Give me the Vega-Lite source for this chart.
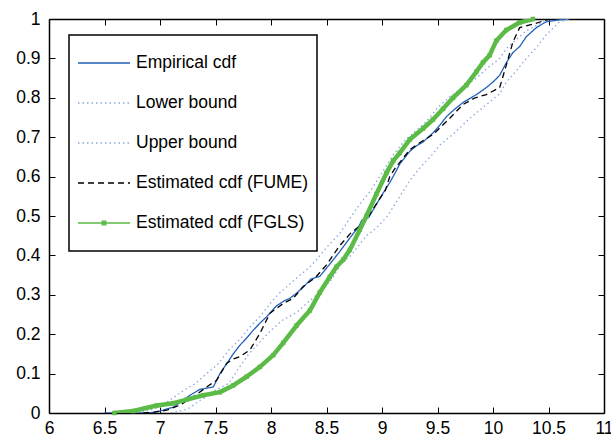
{
  "$schema": "https://vega.github.io/schema/vega-lite/v6.json",
  "width": 555,
  "height": 394,
  "autosize": {"type": "none"},
  "padding": {"left": 49, "top": 19, "right": 7, "bottom": 23},
  "config": {
    "font": "Liberation Sans",
    "view": {"stroke": null},
    "axis": {"grid": false, "domainColor": "black", "domainWidth": 1.5, "tickColor": "black", "tickWidth": 1, "tickSize": -6, "labelFont": "Liberation Sans", "labelFontSize": 17.5, "labelColor": "black", "title": null},
    "legend": {"labelFont": "Liberation Sans", "labelFontSize": 17.5, "labelColor": "black"}
  },
  "data": {"values": [
    {"s":"Empirical cdf","x":6.50,"y":0},{"s":"Empirical cdf","x":6.90,"y":0},{"s":"Empirical cdf","x":7.00,"y":0.005},{"s":"Empirical cdf","x":7.12,"y":0.015},{"s":"Empirical cdf","x":7.20,"y":0.03},{"s":"Empirical cdf","x":7.27,"y":0.045},{"s":"Empirical cdf","x":7.36,"y":0.06},{"s":"Empirical cdf","x":7.48,"y":0.066},{"s":"Empirical cdf","x":7.54,"y":0.10},{"s":"Empirical cdf","x":7.60,"y":0.125},{"s":"Empirical cdf","x":7.66,"y":0.15},{"s":"Empirical cdf","x":7.72,"y":0.172},{"s":"Empirical cdf","x":7.78,"y":0.19},{"s":"Empirical cdf","x":7.84,"y":0.21},{"s":"Empirical cdf","x":7.90,"y":0.228},{"s":"Empirical cdf","x":7.96,"y":0.244},{"s":"Empirical cdf","x":8.05,"y":0.272},{"s":"Empirical cdf","x":8.12,"y":0.285},{"s":"Empirical cdf","x":8.17,"y":0.291},{"s":"Empirical cdf","x":8.23,"y":0.304},{"s":"Empirical cdf","x":8.30,"y":0.322},{"s":"Empirical cdf","x":8.36,"y":0.34},{"s":"Empirical cdf","x":8.44,"y":0.347},{"s":"Empirical cdf","x":8.53,"y":0.378},{"s":"Empirical cdf","x":8.62,"y":0.41},{"s":"Empirical cdf","x":8.71,"y":0.444},{"s":"Empirical cdf","x":8.79,"y":0.473},{"s":"Empirical cdf","x":8.82,"y":0.49},{"s":"Empirical cdf","x":8.88,"y":0.496},{"s":"Empirical cdf","x":8.95,"y":0.53},{"s":"Empirical cdf","x":9.01,"y":0.558},{"s":"Empirical cdf","x":9.07,"y":0.585},{"s":"Empirical cdf","x":9.12,"y":0.61},{"s":"Empirical cdf","x":9.16,"y":0.632},{"s":"Empirical cdf","x":9.25,"y":0.664},{"s":"Empirical cdf","x":9.30,"y":0.676},{"s":"Empirical cdf","x":9.37,"y":0.688},{"s":"Empirical cdf","x":9.46,"y":0.711},{"s":"Empirical cdf","x":9.52,"y":0.73},{"s":"Empirical cdf","x":9.58,"y":0.752},{"s":"Empirical cdf","x":9.65,"y":0.77},{"s":"Empirical cdf","x":9.73,"y":0.788},{"s":"Empirical cdf","x":9.85,"y":0.808},{"s":"Empirical cdf","x":9.94,"y":0.826},{"s":"Empirical cdf","x":10.00,"y":0.84},{"s":"Empirical cdf","x":10.06,"y":0.857},{"s":"Empirical cdf","x":10.12,"y":0.889},{"s":"Empirical cdf","x":10.18,"y":0.915},{"s":"Empirical cdf","x":10.24,"y":0.93},{"s":"Empirical cdf","x":10.30,"y":0.955},{"s":"Empirical cdf","x":10.39,"y":0.978},{"s":"Empirical cdf","x":10.48,"y":0.993},{"s":"Empirical cdf","x":10.60,"y":0.998},{"s":"Empirical cdf","x":10.69,"y":1.0},

    {"s":"Lower bound","x":7.10,"y":0},{"s":"Lower bound","x":7.25,"y":0.01},{"s":"Lower bound","x":7.35,"y":0.03},{"s":"Lower bound","x":7.41,"y":0.04},{"s":"Lower bound","x":7.50,"y":0.058},{"s":"Lower bound","x":7.62,"y":0.075},{"s":"Lower bound","x":7.70,"y":0.11},{"s":"Lower bound","x":7.80,"y":0.15},{"s":"Lower bound","x":7.90,"y":0.18},{"s":"Lower bound","x":7.99,"y":0.207},{"s":"Lower bound","x":8.10,"y":0.235},{"s":"Lower bound","x":8.23,"y":0.255},{"s":"Lower bound","x":8.35,"y":0.285},{"s":"Lower bound","x":8.45,"y":0.31},{"s":"Lower bound","x":8.55,"y":0.34},{"s":"Lower bound","x":8.62,"y":0.375},{"s":"Lower bound","x":8.72,"y":0.40},{"s":"Lower bound","x":8.86,"y":0.45},{"s":"Lower bound","x":8.95,"y":0.47},{"s":"Lower bound","x":9.05,"y":0.50},{"s":"Lower bound","x":9.15,"y":0.545},{"s":"Lower bound","x":9.25,"y":0.59},{"s":"Lower bound","x":9.35,"y":0.625},{"s":"Lower bound","x":9.45,"y":0.655},{"s":"Lower bound","x":9.52,"y":0.68},{"s":"Lower bound","x":9.65,"y":0.71},{"s":"Lower bound","x":9.80,"y":0.75},{"s":"Lower bound","x":9.95,"y":0.785},{"s":"Lower bound","x":10.06,"y":0.81},{"s":"Lower bound","x":10.12,"y":0.84},{"s":"Lower bound","x":10.20,"y":0.865},{"s":"Lower bound","x":10.30,"y":0.90},{"s":"Lower bound","x":10.39,"y":0.927},{"s":"Lower bound","x":10.48,"y":0.96},{"s":"Lower bound","x":10.60,"y":0.993},{"s":"Lower bound","x":10.70,"y":1.0},

    {"s":"Upper bound","x":6.80,"y":0},{"s":"Upper bound","x":6.95,"y":0.01},{"s":"Upper bound","x":7.05,"y":0.025},{"s":"Upper bound","x":7.15,"y":0.045},{"s":"Upper bound","x":7.24,"y":0.062},{"s":"Upper bound","x":7.32,"y":0.075},{"s":"Upper bound","x":7.42,"y":0.10},{"s":"Upper bound","x":7.53,"y":0.126},{"s":"Upper bound","x":7.62,"y":0.16},{"s":"Upper bound","x":7.72,"y":0.187},{"s":"Upper bound","x":7.80,"y":0.215},{"s":"Upper bound","x":7.90,"y":0.245},{"s":"Upper bound","x":8.02,"y":0.287},{"s":"Upper bound","x":8.08,"y":0.305},{"s":"Upper bound","x":8.20,"y":0.335},{"s":"Upper bound","x":8.35,"y":0.371},{"s":"Upper bound","x":8.41,"y":0.389},{"s":"Upper bound","x":8.50,"y":0.42},{"s":"Upper bound","x":8.62,"y":0.456},{"s":"Upper bound","x":8.70,"y":0.49},{"s":"Upper bound","x":8.80,"y":0.53},{"s":"Upper bound","x":8.90,"y":0.565},{"s":"Upper bound","x":9.00,"y":0.61},{"s":"Upper bound","x":9.10,"y":0.655},{"s":"Upper bound","x":9.20,"y":0.69},{"s":"Upper bound","x":9.30,"y":0.715},{"s":"Upper bound","x":9.40,"y":0.74},{"s":"Upper bound","x":9.50,"y":0.775},{"s":"Upper bound","x":9.62,"y":0.805},{"s":"Upper bound","x":9.75,"y":0.83},{"s":"Upper bound","x":9.85,"y":0.85},{"s":"Upper bound","x":9.97,"y":0.88},{"s":"Upper bound","x":10.06,"y":0.90},{"s":"Upper bound","x":10.12,"y":0.925},{"s":"Upper bound","x":10.21,"y":0.948},{"s":"Upper bound","x":10.30,"y":0.97},{"s":"Upper bound","x":10.42,"y":0.988},{"s":"Upper bound","x":10.52,"y":1.0},

    {"s":"Estimated cdf (FUME)","x":6.85,"y":0},{"s":"Estimated cdf (FUME)","x":6.95,"y":0.002},{"s":"Estimated cdf (FUME)","x":7.06,"y":0.007},{"s":"Estimated cdf (FUME)","x":7.18,"y":0.02},{"s":"Estimated cdf (FUME)","x":7.30,"y":0.041},{"s":"Estimated cdf (FUME)","x":7.42,"y":0.066},{"s":"Estimated cdf (FUME)","x":7.51,"y":0.083},{"s":"Estimated cdf (FUME)","x":7.60,"y":0.126},{"s":"Estimated cdf (FUME)","x":7.66,"y":0.137},{"s":"Estimated cdf (FUME)","x":7.72,"y":0.143},{"s":"Estimated cdf (FUME)","x":7.81,"y":0.16},{"s":"Estimated cdf (FUME)","x":7.90,"y":0.202},{"s":"Estimated cdf (FUME)","x":7.99,"y":0.253},{"s":"Estimated cdf (FUME)","x":8.11,"y":0.278},{"s":"Estimated cdf (FUME)","x":8.20,"y":0.291},{"s":"Estimated cdf (FUME)","x":8.29,"y":0.321},{"s":"Estimated cdf (FUME)","x":8.40,"y":0.344},{"s":"Estimated cdf (FUME)","x":8.50,"y":0.376},{"s":"Estimated cdf (FUME)","x":8.62,"y":0.425},{"s":"Estimated cdf (FUME)","x":8.71,"y":0.454},{"s":"Estimated cdf (FUME)","x":8.80,"y":0.475},{"s":"Estimated cdf (FUME)","x":8.88,"y":0.50},{"s":"Estimated cdf (FUME)","x":8.97,"y":0.54},{"s":"Estimated cdf (FUME)","x":9.03,"y":0.565},{"s":"Estimated cdf (FUME)","x":9.07,"y":0.60},{"s":"Estimated cdf (FUME)","x":9.12,"y":0.622},{"s":"Estimated cdf (FUME)","x":9.25,"y":0.668},{"s":"Estimated cdf (FUME)","x":9.34,"y":0.686},{"s":"Estimated cdf (FUME)","x":9.46,"y":0.707},{"s":"Estimated cdf (FUME)","x":9.60,"y":0.745},{"s":"Estimated cdf (FUME)","x":9.73,"y":0.783},{"s":"Estimated cdf (FUME)","x":9.84,"y":0.80},{"s":"Estimated cdf (FUME)","x":9.94,"y":0.808},{"s":"Estimated cdf (FUME)","x":10.06,"y":0.826},{"s":"Estimated cdf (FUME)","x":10.12,"y":0.883},{"s":"Estimated cdf (FUME)","x":10.18,"y":0.942},{"s":"Estimated cdf (FUME)","x":10.24,"y":0.978},{"s":"Estimated cdf (FUME)","x":10.36,"y":0.987},{"s":"Estimated cdf (FUME)","x":10.51,"y":1.0},

    {"s":"Estimated cdf (FGLS)","x":6.59,"y":0},{"s":"Estimated cdf (FGLS)","x":6.76,"y":0.005},{"s":"Estimated cdf (FGLS)","x":6.97,"y":0.019},{"s":"Estimated cdf (FGLS)","x":7.12,"y":0.025},{"s":"Estimated cdf (FGLS)","x":7.24,"y":0.034},{"s":"Estimated cdf (FGLS)","x":7.39,"y":0.045},{"s":"Estimated cdf (FGLS)","x":7.54,"y":0.053},{"s":"Estimated cdf (FGLS)","x":7.66,"y":0.07},{"s":"Estimated cdf (FGLS)","x":7.78,"y":0.092},{"s":"Estimated cdf (FGLS)","x":7.90,"y":0.117},{"s":"Estimated cdf (FGLS)","x":8.02,"y":0.147},{"s":"Estimated cdf (FGLS)","x":8.11,"y":0.178},{"s":"Estimated cdf (FGLS)","x":8.23,"y":0.222},{"s":"Estimated cdf (FGLS)","x":8.35,"y":0.26},{"s":"Estimated cdf (FGLS)","x":8.44,"y":0.306},{"s":"Estimated cdf (FGLS)","x":8.53,"y":0.346},{"s":"Estimated cdf (FGLS)","x":8.59,"y":0.371},{"s":"Estimated cdf (FGLS)","x":8.65,"y":0.389},{"s":"Estimated cdf (FGLS)","x":8.71,"y":0.414},{"s":"Estimated cdf (FGLS)","x":8.80,"y":0.465},{"s":"Estimated cdf (FGLS)","x":8.86,"y":0.50},{"s":"Estimated cdf (FGLS)","x":8.95,"y":0.556},{"s":"Estimated cdf (FGLS)","x":9.04,"y":0.609},{"s":"Estimated cdf (FGLS)","x":9.10,"y":0.64},{"s":"Estimated cdf (FGLS)","x":9.16,"y":0.66},{"s":"Estimated cdf (FGLS)","x":9.25,"y":0.694},{"s":"Estimated cdf (FGLS)","x":9.37,"y":0.722},{"s":"Estimated cdf (FGLS)","x":9.46,"y":0.745},{"s":"Estimated cdf (FGLS)","x":9.55,"y":0.772},{"s":"Estimated cdf (FGLS)","x":9.64,"y":0.80},{"s":"Estimated cdf (FGLS)","x":9.76,"y":0.832},{"s":"Estimated cdf (FGLS)","x":9.85,"y":0.866},{"s":"Estimated cdf (FGLS)","x":9.91,"y":0.89},{"s":"Estimated cdf (FGLS)","x":9.97,"y":0.908},{"s":"Estimated cdf (FGLS)","x":10.03,"y":0.945},{"s":"Estimated cdf (FGLS)","x":10.12,"y":0.972},{"s":"Estimated cdf (FGLS)","x":10.24,"y":0.991},{"s":"Estimated cdf (FGLS)","x":10.36,"y":1.0}
  ]},
  "resolve": {"axis": {"x": "independent", "y": "independent"}},
  "layer": [
    {
      "transform": [{"filter": "datum.s !== 'Estimated cdf (FGLS)'"}],
      "mark": {"type": "line", "clip": true, "strokeWidth": 1.3},
      "encoding": {
        "x": {"field": "x", "type": "quantitative", "scale": {"domain": [6, 11], "nice": false, "zero": false},
              "axis": {"orient": "bottom", "values": [6,6.5,7,7.5,8,8.5,9,9.5,10,10.5,11], "format": "~g", "labelPadding": 12, "labelFlush": false, "labelOverlap": false}},
        "y": {"field": "y", "type": "quantitative", "scale": {"domain": [0, 1], "nice": false},
              "axis": {"orient": "left", "values": [0,0.1,0.2,0.3,0.4,0.5,0.6,0.7,0.8,0.9,1], "format": "~g", "labelPadding": 15, "labelFlush": false, "labelOverlap": false}},
        "color": {"field": "s", "type": "nominal",
          "scale": {"domain": ["Empirical cdf","Lower bound","Upper bound","Estimated cdf (FUME)","Estimated cdf (FGLS)"],
                    "range": ["#2160b8","#86a9de","#86a9de","#000000","#5bbb46"]},
          "legend": {"title": null, "orient": "none", "legendX": 20, "legendY": 16, "direction": "vertical",
                     "symbolType": "stroke", "symbolSize": 2704, "symbolStrokeWidth": 1.3, "clipHeight": 40, "rowPadding": 0,
                     "padding": 8, "labelOffset": 5, "labelLimit": 400, "strokeColor": "black", "fillColor": "white",
                     "labelFontSize": 17.5, "labelFont": "Liberation Sans",
                     "encode": {"legend": {"update": {"strokeWidth": {"value": 1.5}}},
                                "symbols": {"update": {"shape": {"signal": "datum.label === 'Estimated cdf (FGLS)' ? 'M-1,0H1M-0.07,-0.07H0.07V0.07H-0.07Z' : 'stroke'"},
                                                       "fill": {"signal": "datum.label === 'Estimated cdf (FGLS)' ? '#5bbb46' : 'transparent'"}}}}}},
        "strokeDash": {"field": "s", "type": "nominal",
          "scale": {"domain": ["Empirical cdf","Lower bound","Upper bound","Estimated cdf (FUME)","Estimated cdf (FGLS)"],
                    "range": [[1,0],[1.5,3],[1.5,3],[6,4],[1,0]]}}
      }
    },
    {
      "transform": [{"filter": "datum.s === 'Estimated cdf (FGLS)'"}],
      "mark": {"type": "trail", "clip": true, "color": "#5bbb46"},
      "encoding": {
        "x": {"field": "x", "type": "quantitative", "axis": null},
        "y": {"field": "y", "type": "quantitative", "axis": null},
        "size": {"value": 4.5}
      }
    },
    {
      "transform": [{"filter": "datum.s === 'Estimated cdf (FGLS)'"}],
      "mark": {"type": "square", "size": 20, "color": "#5bbb46", "opacity": 1, "filled": true},
      "encoding": {
        "x": {"field": "x", "type": "quantitative", "axis": {"orient": "top", "values": [6,6.5,7,7.5,8,8.5,9,9.5,10,10.5,11], "labels": false}},
        "y": {"field": "y", "type": "quantitative", "axis": {"orient": "right", "values": [0,0.1,0.2,0.3,0.4,0.5,0.6,0.7,0.8,0.9,1], "labels": false}}
      }
    }
  ]
}
